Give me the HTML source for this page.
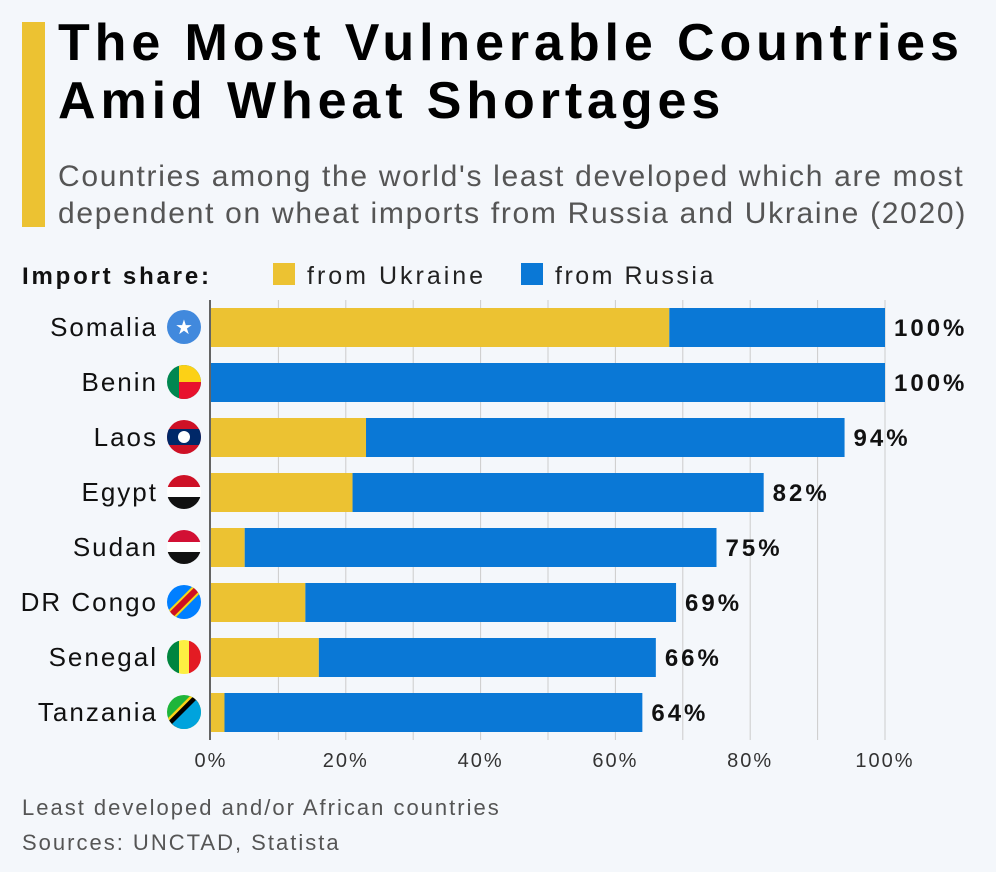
<!DOCTYPE html>
<html><head><meta charset="utf-8"><style>
body{margin:0;width:996px;height:872px;background:#f4f7fb;font-family:"Liberation Sans",sans-serif;overflow:hidden;position:relative}
.t{position:absolute;left:58px;top:14px;font-size:52px;font-weight:bold;line-height:58px;color:#000;letter-spacing:4.9px;white-space:nowrap}
.s{position:absolute;left:58px;top:158px;font-size:30px;line-height:37px;color:#555;letter-spacing:1.7px;white-space:nowrap}
.bar{position:absolute;left:22px;top:22px;width:23px;height:205px;background:#ecc232}
.f{position:absolute;left:22px;font-size:22px;color:#555;letter-spacing:2px}
</style></head><body>
<div class="bar"></div>
<div class="t">The Most Vulnerable Countries<br>Amid Wheat Shortages</div>
<div class="s">Countries among the world's least developed which are most<br>dependent on wheat imports from Russia and Ukraine (2020)</div>
<svg id="c" width="996" height="872" style="position:absolute;left:0;top:0"><defs><clipPath id="cc"><circle cx="0" cy="0" r="17"/></clipPath></defs></svg>
<div class="f" style="top:795px">Least developed and/or African countries</div>
<div class="f" style="top:830px">Sources: UNCTAD, Statista</div>
<script>
const countries=["Somalia","Benin","Laos","Egypt","Sudan","DR Congo","Senegal","Tanzania"];
const ukraine=[68,0,23,21,5,14,16,2];
const totals=[100,100,94,82,75,69,66,64];
const ticks=[0,20,40,60,80,100];
const NS="http://www.w3.org/2000/svg",svg=document.getElementById('c');
const x=v=>211+v*6.74, y=i=>308+i*55;
function el(t,a,p){const e=document.createElementNS(NS,t);for(const k in a)e.setAttribute(k,a[k]);(p||svg).appendChild(e);return e;}
for(let v=10;v<=100;v+=10){const g=el('line',{x1:x(v),x2:x(v),y1:300,y2:740,stroke:'#ccc','stroke-width':1});
}
ticks.forEach(v=>{const t=el('text',{x:x(v),y:767,'font-size':20,'text-anchor':'middle',fill:'#333','letter-spacing':2});t.textContent=v+'%';
});
const lt=el('text',{x:22,y:284,'font-size':24,'font-weight':'bold',fill:'#111','letter-spacing':2.8});lt.textContent='Import share:';

[['from Ukraine','#ecc232',273,3],['from Russia','#0a78d6',521,2.5]].forEach(([n,c,lx,ls])=>{
const r=el('rect',{x:lx,y:263,width:22,height:22,fill:c});
const t=el('text',{x:lx+34,y:284,'font-size':25,fill:'#222','letter-spacing':ls});t.textContent=n;});
// flag stripes: [x,y,w,h,color] relative to center
const flags=[
 [[-17,-17,34,34,'#4189dd']],
 [[-17,-17,34,34,'#008751'],[-5,-17,22,17,'#fcd116'],[-5,0,22,17,'#e8112d']],
 [[-17,-17,34,34,'#ce1126'],[-17,-8,34,16,'#002868']],
 [[-17,-17,34,12,'#ce1126'],[-17,-5,34,10,'#fff'],[-17,5,34,12,'#111']],
 [[-17,-17,34,12,'#d21034'],[-17,-5,34,10,'#fff'],[-17,5,34,12,'#111']],
 [[-17,-17,34,34,'#007fff']],
 [[-17,-17,12,34,'#00853f'],[-5,-17,10,34,'#fdef42'],[5,-17,12,34,'#e31b23']],
 [[-17,-17,34,34,'#1eb53a']]];
countries.forEach((c,i)=>{
const r1=el('rect',{x:x(0),y:y(i),width:x(ukraine[i])-x(0),height:39,fill:'#ecc232'});

const r2=el('rect',{x:x(ukraine[i]),y:y(i),width:x(totals[i])-x(ukraine[i]),height:39,fill:'#0a78d6'});

const v=el('text',{x:x(totals[i])+9,y:y(i)+28,'font-size':24,'font-weight':'bold',fill:'#111','letter-spacing':3});v.textContent=totals[i]+'%';

const l=el('text',{x:158,y:y(i)+28,'font-size':26,'text-anchor':'end',fill:'#111','letter-spacing':2});l.textContent=c;

const g=el('g',{transform:`translate(184,${y(i)+19})`,'clip-path':'url(#cc)'});

flags[i].forEach(s=>el('rect',{x:s[0],y:s[1],width:s[2],height:s[3],fill:s[4]},g));
if(i==0){const s=el('text',{x:0,y:7,'font-size':20,'text-anchor':'middle',fill:'#fff'},g);s.textContent='★';}
if(i==2)el('circle',{cx:0,cy:0,r:6,fill:'#fff'},g);
if(i==5)el('line',{x1:-17,y1:17,x2:17,y2:-17,stroke:'#f7d618','stroke-width':10},g),el('line',{x1:-17,y1:17,x2:17,y2:-17,stroke:'#ce1021','stroke-width':6},g);
if(i==7)el('line',{x1:-17,y1:17,x2:17,y2:-17,stroke:'#fcd116','stroke-width':14},g),el('line',{x1:-17,y1:17,x2:17,y2:-17,stroke:'#000','stroke-width':9},g),el('polygon',{points:'17,-17 17,17 -17,17','fill':'#00a3dd'},g);
});
const ax=el('line',{x1:210,x2:210,y1:300,y2:740,stroke:'#333','stroke-width':1.5});

</script>
</body></html>
